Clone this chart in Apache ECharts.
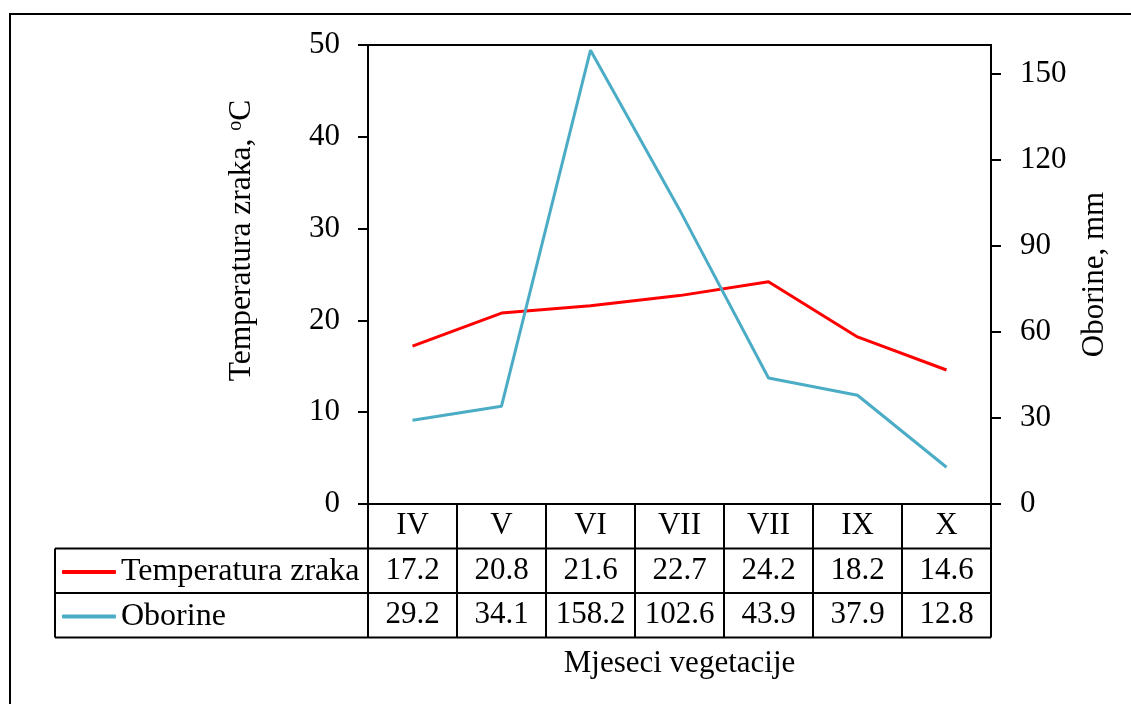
<!DOCTYPE html>
<html>
<head>
<meta charset="utf-8">
<script src="https://cdn.jsdelivr.net/npm/echarts@6/dist/echarts.min.js"></script>
<style>
html,body{margin:0;padding:0;background:#fff;}
#chart{width:1131px;height:704px;}
</style>
</head>
<body>
<div id="chart"></div>
<script>
const categories = ['IV', 'V', 'VI', 'VII', 'VII', 'IX', 'X'];
const temperature = [17.2, 20.8, 21.6, 22.7, 24.2, 18.2, 14.6];
const precipitation = [29.2, 34.1, 158.2, 102.6, 43.9, 37.9, 12.8];
const leftTicks = [0, 10, 20, 30, 40, 50];
const rightTicks = [0, 30, 60, 90, 120, 150];

const FONT = "'Liberation Serif', 'Times New Roman', serif";
const FS = 31;
const G = { left: 368, right: 991, top: 45, bottom: 504 };
const ROW = 44.5;
const tableBottom = G.bottom + 3 * ROW;
const tableLeft = 55;

const chart = echarts.init(document.getElementById('chart'));
const lineStyleBlack = { stroke: '#000', lineWidth: 2 };

chart.setOption({
  animation: false,
  backgroundColor: '#fff',
  textStyle: { fontFamily: FONT, color: '#000' },
  grid: {
    left: G.left, top: G.top, width: G.right - G.left, height: G.bottom - G.top,
    show: true, borderColor: '#000', borderWidth: 2, backgroundColor: 'transparent'
  },
  legend: {
    orient: 'vertical',
    left: 62, top: G.bottom + ROW + 6.5,
    padding: 0,
    itemWidth: 54, itemHeight: 4, itemGap: 10.5, itemTextGap: 4,
    icon: 'roundRect',
    textStyle: { fontFamily: FONT, fontSize: 32, color: '#000', lineHeight: 34 },
    data: ['Temperatura zraka', 'Oborine']
  },
  xAxis: {
    type: 'category',
    data: categories,
    boundaryGap: true,
    axisLine: { lineStyle: { color: '#000', width: 2 } },
    axisTick: { show: true, interval: 0, length: tableBottom - G.bottom, lineStyle: { color: '#000', width: 2 } },
    axisLabel: {
      interval: 0, margin: 0,
      fontFamily: FONT, fontSize: FS, color: '#000', lineHeight: ROW,
      formatter: (v, i) => v + '\n' + temperature[i].toFixed(1) + '\n' + precipitation[i].toFixed(1)
    },
    name: 'Mjeseci vegetacije',
    nameLocation: 'middle',
    nameGap: 144,
    nameTextStyle: { fontFamily: FONT, fontSize: FS, color: '#000' }
  },
  yAxis: [
    {
      type: 'value', min: 0, max: 50, interval: 10,
      position: 'left',
      splitLine: { show: false },
      axisLine: { show: true, lineStyle: { color: '#000', width: 2 } },
      axisTick: { show: true, length: 10, lineStyle: { color: '#000', width: 2 }, customValues: leftTicks },
      axisLabel: { margin: 28, fontFamily: FONT, fontSize: FS, color: '#000', customValues: leftTicks },
      name: 'Temperatura zraka, {sup|o}C',
      nameLocation: 'middle', nameRotate: 90, nameGap: 110,
      nameTextStyle: {
        fontFamily: FONT, fontSize: 31.5, color: '#000',
        padding: [0, 0, 0, 68],
        rich: { sup: { fontFamily: FONT, fontSize: 20, verticalAlign: 'top', padding: [0, 0, 12, 0], color: '#000' } }
      }
    },
    {
      type: 'value', min: 0, max: 160, interval: 30,
      position: 'right',
      splitLine: { show: false },
      axisLine: { show: true, lineStyle: { color: '#000', width: 2 } },
      axisTick: { show: true, length: 10, lineStyle: { color: '#000', width: 2 }, customValues: rightTicks },
      axisLabel: { margin: 29, fontFamily: FONT, fontSize: FS, color: '#000', customValues: rightTicks },
      name: 'Oborine, mm',
      nameLocation: 'middle', nameRotate: 90, nameGap: 88,
      nameTextStyle: { fontFamily: FONT, fontSize: FS, color: '#000' }
    }
  ],
  series: [
    {
      name: 'Temperatura zraka', type: 'line', yAxisIndex: 0,
      data: temperature, symbol: 'none', color: '#FF0000',
      lineStyle: { color: '#FF0000', width: 3 }, itemStyle: { color: '#FF0000' }
    },
    {
      name: 'Oborine', type: 'line', yAxisIndex: 1,
      data: precipitation, symbol: 'none', color: '#4BACC6',
      lineStyle: { color: '#4BACC6', width: 3 }, itemStyle: { color: '#4BACC6' }
    }
  ],
  graphic: [
    { type: 'rect', shape: { x: 10, y: 14, width: 1140, height: 720 }, style: { fill: 'none', stroke: '#000', lineWidth: 2 }, silent: true },
    { type: 'line', shape: { x1: tableLeft, y1: G.bottom + ROW, x2: G.right, y2: G.bottom + ROW }, style: lineStyleBlack },
    { type: 'line', shape: { x1: tableLeft, y1: G.bottom + 2 * ROW, x2: G.right, y2: G.bottom + 2 * ROW }, style: lineStyleBlack },
    { type: 'line', shape: { x1: tableLeft, y1: tableBottom, x2: G.right, y2: tableBottom }, style: lineStyleBlack },
    { type: 'line', shape: { x1: tableLeft, y1: G.bottom + ROW, x2: tableLeft, y2: tableBottom }, style: lineStyleBlack }
  ]
});
</script>
</body>
</html>
